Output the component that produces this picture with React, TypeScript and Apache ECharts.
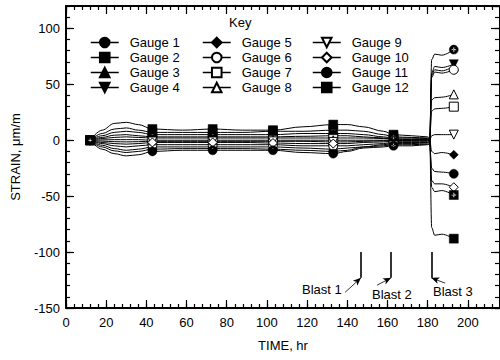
import React, { useEffect, useRef } from "react";
import * as echarts from "echarts";

const FONT = "'Liberation Sans', Arial, Helvetica, sans-serif";

const X_MIN = 0;
const X_MAX = 216;
const X_MAJOR = 20;
const X_MINOR = 4;
const Y_MIN = -150;
const Y_MAX = 120;
const Y_MAJOR = 50;
const Y_MINOR = 10;

const TIMES = [12, 18, 24, 30, 36, 43, 58, 73, 88, 103, 118, 133, 140, 148, 158, 163, 172, 180, 181, 182, 183.5, 187, 193];
const MARK_TIMES = [12, 43, 73, 103, 133, 163, 193];

const GAUGE_NAMES = [
  "Gauge 1", "Gauge 2", "Gauge 3", "Gauge 4", "Gauge 5", "Gauge 6",
  "Gauge 7", "Gauge 8", "Gauge 9", "Gauge 10", "Gauge 11", "Gauge 12",
];

const G1 = [0, -6, -9.5, -11, -10, -8, -7.5, -7.5, -7.5, -8, -9, -10, -9, -6, -5, -4, -4, -3.5, -3, -25, -28, -28.5, -30];
const G2 = [0, 9, 15, 16, 14, 10, 9, 10, 9, 9, 12, 14, 14, 12, 8, 5, 4, 3, 2, -78, -85, -84, -88];
const G3 = [0, 4, 7, 8, 7, 5, 5, 5, 5, 5, 6, 6, 6, 5, 3, 2, 2, 1.5, 1, 58, 63, 62, 66];
const G4 = [0, -4.5, -7.5, -9, -8, -6, -6, -6, -6, -6, -7, -8, -7, -6, -4, -3, -3, -2.5, -2, 60, 66, 65, 68];
const G5 = [0, 2.5, 4.5, 5, 4, 3, 3, 3, 3, 3, 3.5, 4, 4, 3, 2, 1, 1, 1, 0.5, -10, -12, -11, -13];
const G6 = [0, -3, -5, -6, -5, -4, -4, -4, -4, -4, -5, -5, -5, -4, -3, -2, -2, -2, -1.5, 56, 61, 60, 63];
const G7 = [0, 1.5, 2.5, 3, 2.5, 2, 2, 2, 2, 2, 2, 2, 2, 2, 1.5, 1, 0.5, 0.5, 0.5, 26, 28, 28.5, 30];
const G8 = [0, 0.3, 0.5, 0.5, 0.5, 0, 0, 0, 0, 0, 0, 0, 0, 0, 0, 0, 0, 0, 0, 36, 38, 38.5, 41];
const G9 = [0, -0.8, -1.3, -1.5, -1.3, -1, -1, -1, -1, -1, -1, -1.5, -1.5, -1, -0.5, -0.5, 0, 0, 0, 4, 5, 5, 5];
const G10 = [0, -2, -3, -3.5, -3, -2, -2, -2, -2, -2.5, -3, -3, -3, -2, -1.5, -1, -1, -1, -1, -36, -39, -39, -42];
const G11 = [0, -8, -12, -14, -13, -10, -9, -9, -9, -9, -11, -12, -10, -7, -6, -5, -5, -4, -3.5, 72, 77, 76, 81];
const G12 = [0, 6, 10, 11, 9, 7, 7, 7, 7, 8, 8, 9, 9, 8, 5, 3, 2.5, 2, 1.5, -42, -46, -45, -49];

const GAUGE_VALUES = [G1, G2, G3, G4, G5, G6, G7, G8, G9, G10, G11, G12];

const BLAST_LABELS = ["Blast 1", "Blast 2", "Blast 3"];
const BLAST_TIMES = [146.8, 161.8, 181.8];
const BLAST_TOP = -100;
const BLAST_BOTTOM = -123;
const ARROW_STARTS = [[138.9, -136], [154.8, -129.6], [188.7, -127.8]];

const DOWN_TRI = "path://M0,0L10,0L5,9Z";
const PLUS_HOLE = "M4.2,2.4V4.2H2.4V5.8H4.2V7.6H5.8V5.8H7.6V4.2H5.8V2.4Z";
const SQ_PLUS = "path://M0,0H10V10H0Z" + PLUS_HOLE;
const CIRC_PLUS = "path://M5,0A5,5,0,1,1,5,10A5,5,0,1,1,5,0Z" + PLUS_HOLE;

const SYMBOLS = ["circle", "rect", "triangle", DOWN_TRI, "diamond", "circle", "rect", "triangle", DOWN_TRI, "diamond", CIRC_PLUS, SQ_PLUS];
const OPEN = [false, false, false, false, false, true, true, true, true, true, false, false];

export default function App() {
  const ref = useRef<HTMLDivElement>(null);
  useEffect(() => {
    if (!ref.current) return;
    const chart = echarts.init(ref.current, undefined, { renderer: "svg" });

    const axisCommon = {
      type: "value" as const,
      splitLine: { show: false },
    };
    const lineStyleAxis = { color: "#000", width: 2 };
    const tickStyle = { color: "#000", width: 1.2 };

    const xAxes = [
      {
        ...axisCommon, position: "bottom", min: X_MIN, max: X_MAX, interval: X_MAJOR,
        axisLine: { show: true, onZero: false, lineStyle: lineStyleAxis },
        axisTick: { show: true, inside: true, length: 8, lineStyle: tickStyle },
        axisLabel: { show: true, color: "#000", fontSize: 13, fontFamily: FONT, margin: 8, showMaxLabel: false },
        name: "TIME, hr", nameLocation: "middle", nameGap: 31,
        nameTextStyle: { color: "#000", fontSize: 13, fontFamily: FONT },
      },
      {
        ...axisCommon, position: "bottom", min: X_MIN, max: X_MAX, interval: X_MINOR,
        axisLine: { show: false, onZero: false },
        axisTick: { show: true, inside: true, length: 4, lineStyle: tickStyle },
        axisLabel: { show: false },
      },
      {
        ...axisCommon, position: "top", min: X_MIN, max: X_MAX, interval: X_MAJOR,
        axisLine: { show: true, onZero: false, lineStyle: lineStyleAxis },
        axisTick: { show: true, inside: true, length: 8, lineStyle: tickStyle },
        axisLabel: { show: false },
      },
      {
        ...axisCommon, position: "top", min: X_MIN, max: X_MAX, interval: X_MINOR,
        axisLine: { show: false, onZero: false },
        axisTick: { show: true, inside: true, length: 4, lineStyle: tickStyle },
        axisLabel: { show: false },
      },
    ];
    const yAxes = [
      {
        ...axisCommon, position: "left", min: Y_MIN, max: Y_MAX, interval: Y_MAJOR,
        axisLine: { show: true, onZero: false, lineStyle: lineStyleAxis },
        axisTick: { show: true, inside: true, length: 8, lineStyle: tickStyle },
        axisLabel: { show: true, color: "#000", fontSize: 13, fontFamily: FONT, margin: 6, showMaxLabel: false },
        name: "STRAIN, \u03bcm/m", nameLocation: "middle", nameGap: 44, nameRotate: 90,
        nameTextStyle: { color: "#000", fontSize: 13, fontFamily: FONT },
      },
      {
        ...axisCommon, position: "left", min: Y_MIN, max: Y_MAX, interval: Y_MINOR,
        axisLine: { show: false, onZero: false },
        axisTick: { show: true, inside: true, length: 4, lineStyle: tickStyle },
        axisLabel: { show: false },
      },
      {
        ...axisCommon, position: "right", min: Y_MIN, max: Y_MAX, interval: Y_MAJOR,
        axisLine: { show: true, onZero: false, lineStyle: lineStyleAxis },
        axisTick: { show: true, inside: true, length: 9, lineStyle: tickStyle },
        axisLabel: { show: false },
      },
      {
        ...axisCommon, position: "right", min: Y_MIN, max: Y_MAX, interval: Y_MINOR,
        axisLine: { show: false, onZero: false },
        axisTick: { show: true, inside: true, length: 5, lineStyle: tickStyle },
        axisLabel: { show: false },
      },
    ];

    const gaugeSeries = GAUGE_NAMES.map((name, gi) => ({
      name,
      type: "line",
      xAxisIndex: 0,
      yAxisIndex: 0,
      data: TIMES.map((t, i) => [t, GAUGE_VALUES[gi][i]]),
      smooth: 0.35,
      smoothMonotone: "x",
      symbol: SYMBOLS[gi],
      symbolSize: (v: number[]) => (MARK_TIMES.includes(v[0]) ? 9 : 0),
      showSymbol: true,
      color: "#000",
      lineStyle: { color: "#000", width: 1 },
      itemStyle: OPEN[gi]
        ? { color: "#fff", borderColor: "#000", borderWidth: 1 }
        : { color: "#000", borderColor: "#000", borderWidth: 0.5 },
      emphasis: { disabled: true },
      z: 3,
    }));

    const annotationSeries = {
      name: "annotations",
      type: "line",
      xAxisIndex: 0,
      yAxisIndex: 0,
      data: [[BLAST_TIMES[0], BLAST_TOP]],
      showSymbol: false,
      lineStyle: { opacity: 0 },
      silent: true,
      markLine: {
        silent: true,
        animation: false,
        symbol: ["none", "none"],
        label: { show: false },
        emphasis: { disabled: true },
        data: [
          ...BLAST_TIMES.map((t) => [
            { coord: [t, BLAST_TOP], lineStyle: { color: "#000", width: 1.6, type: "solid" } },
            { coord: [t, BLAST_BOTTOM] },
          ]),
          ...BLAST_TIMES.map((t, i) => [
            { coord: ARROW_STARTS[i], symbol: "none", lineStyle: { color: "#000", width: 0.8, type: "solid" } },
            { coord: [t, BLAST_BOTTOM], symbol: "arrow", symbolSize: [5, 8] },
          ]),
        ],
      },
    };

    const legendBase = {
      orient: "vertical",
      top: 31,
      itemWidth: 28,
      itemHeight: 12,
      itemGap: 2,
      selectedMode: false,
      lineStyle: { width: 1.5 },
      textStyle: { color: "#000", fontSize: 13, fontFamily: FONT, padding: [0, 0, 0, 6] },
    };

    chart.setOption({
      animation: false,
      backgroundColor: "#fff",
      grid: { left: 66, right: -1, top: 6, bottom: 52, containLabel: false },
      xAxis: xAxes,
      yAxis: yAxes,
      legend: [
        { ...legendBase, left: 85, data: GAUGE_NAMES.slice(0, 4) },
        { ...legendBase, left: 197, data: GAUGE_NAMES.slice(4, 8) },
        { ...legendBase, left: 307, data: GAUGE_NAMES.slice(8, 12) },
      ],
      graphic: [
        { type: "text", left: 229, top: 16, style: { text: "Key", fill: "#000", font: `13px ${FONT}` } },
        { type: "text", left: 302, top: 283, style: { text: BLAST_LABELS[0], fill: "#000", font: `13px ${FONT}` } },
        { type: "text", left: 372, top: 288, style: { text: BLAST_LABELS[1], fill: "#000", font: `13px ${FONT}` } },
        { type: "text", left: 433, top: 285, style: { text: BLAST_LABELS[2], fill: "#000", font: `13px ${FONT}` } },
      ],
      series: [...gaugeSeries, annotationSeries],
    });
    return () => chart.dispose();
  }, []);
  return (
    <div style={{ position: "fixed", left: 0, top: 0, width: 500, height: 360, overflow: "hidden", background: "#fff" }}>
      <div ref={ref} style={{ width: 500, height: 360 }} />
    </div>
  );
}
